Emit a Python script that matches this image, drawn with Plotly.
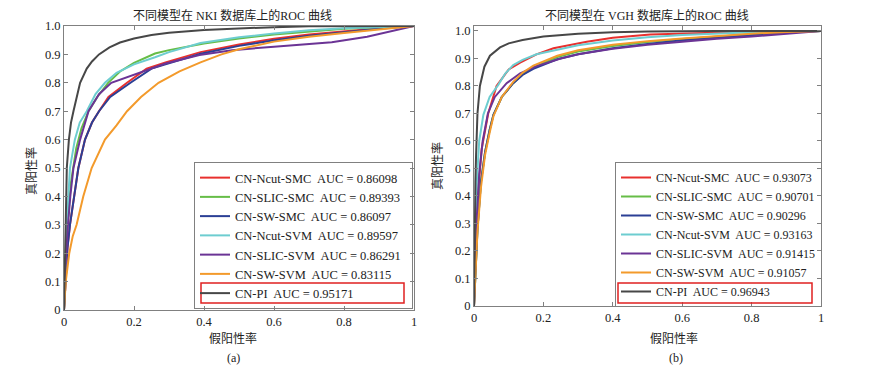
import plotly.graph_objects as go

# ---------------- data ----------------
names = ["CN-Ncut-SMC", "CN-SLIC-SMC", "CN-SW-SMC", "CN-Ncut-SVM", "CN-SLIC-SVM", "CN-SW-SVM", "CN-PI"]
colors = ["#e8302e", "#66bd47", "#2b3f95", "#6dcdd0", "#6b3495", "#f39a2b", "#474747"]

auc_nki = ["0.86098", "0.89393", "0.86097", "0.89597", "0.86291", "0.83115", "0.95171"]
auc_vgh = ["0.93073", "0.90701", "0.90296", "0.93163", "0.91415", "0.91057", "0.96943"]

# NKI ROC points (FPR, TPR)
nki_ncut_smc_fpr = [0, 0.004, 0.01, 0.017, 0.028, 0.041, 0.06, 0.08, 0.1, 0.127, 0.18, 0.236, 0.29, 0.39, 0.5, 0.6, 0.7, 0.8, 0.9, 1.0]
nki_ncut_smc_tpr = [0, 0.1, 0.22, 0.3, 0.4, 0.5, 0.6, 0.66, 0.7, 0.75, 0.8, 0.85, 0.872, 0.908, 0.935, 0.955, 0.97, 0.982, 0.992, 1.0]
nki_slic_smc_fpr = [0, 0.004, 0.01, 0.02, 0.035, 0.05, 0.07, 0.095, 0.126, 0.16, 0.2, 0.26, 0.3, 0.4, 0.5, 0.6, 0.7, 0.8, 0.9, 1.0]
nki_slic_smc_tpr = [0, 0.15, 0.3, 0.45, 0.57, 0.64, 0.7, 0.75, 0.8, 0.84, 0.87, 0.903, 0.915, 0.938, 0.956, 0.97, 0.981, 0.99, 0.996, 1.0]
nki_sw_smc_fpr = [0, 0.004, 0.01, 0.017, 0.028, 0.041, 0.06, 0.08, 0.1, 0.132, 0.19, 0.25, 0.29, 0.39, 0.5, 0.6, 0.7, 0.8, 0.9, 1.0]
nki_sw_smc_tpr = [0, 0.1, 0.22, 0.3, 0.4, 0.5, 0.6, 0.66, 0.7, 0.75, 0.8, 0.85, 0.865, 0.902, 0.93, 0.95, 0.966, 0.979, 0.99, 1.0]
nki_ncut_svm_fpr = [0, 0.003, 0.008, 0.017, 0.031, 0.045, 0.065, 0.09, 0.117, 0.15, 0.2, 0.26, 0.3, 0.39, 0.5, 0.6, 0.7, 0.8, 0.9, 1.0]
nki_ncut_svm_tpr = [0, 0.15, 0.3, 0.5, 0.6, 0.66, 0.7, 0.76, 0.8, 0.835, 0.865, 0.89, 0.908, 0.94, 0.96, 0.974, 0.985, 0.992, 0.997, 1.0]
nki_slic_svm_fpr = [0, 0.003, 0.01, 0.018, 0.027, 0.046, 0.07, 0.1, 0.135, 0.18, 0.225, 0.29, 0.387, 0.48, 0.6, 0.674, 0.765, 0.866, 0.91, 0.955, 1.0]
nki_slic_svm_tpr = [0, 0.12, 0.28, 0.4, 0.5, 0.6, 0.7, 0.76, 0.8, 0.82, 0.838, 0.868, 0.898, 0.915, 0.927, 0.933, 0.943, 0.962, 0.975, 0.986, 1.0]
nki_sw_svm_fpr = [0, 0.005, 0.015, 0.025, 0.036, 0.055, 0.079, 0.117, 0.15, 0.18, 0.22, 0.27, 0.33, 0.39, 0.45, 0.5, 0.6, 0.7, 0.8, 0.9, 1.0]
nki_sw_svm_tpr = [0, 0.1, 0.2, 0.26, 0.3, 0.4, 0.5, 0.6, 0.65, 0.7, 0.75, 0.8, 0.84, 0.872, 0.9, 0.918, 0.945, 0.962, 0.975, 0.988, 1.0]
nki_pi_fpr = [0, 0.003, 0.005, 0.008, 0.014, 0.02, 0.027, 0.046, 0.065, 0.08, 0.1, 0.13, 0.16, 0.2, 0.25, 0.3, 0.4, 0.5, 0.6, 0.7, 0.8, 1.0]
nki_pi_tpr = [0, 0.2, 0.3, 0.5, 0.6, 0.66, 0.7, 0.8, 0.85, 0.875, 0.9, 0.925, 0.942, 0.956, 0.968, 0.976, 0.986, 0.992, 0.996, 0.999, 1.0, 1.0]

# VGH ROC points (FPR, TPR)
vgh_ncut_smc_fpr = [0, 0.003, 0.008, 0.015, 0.022, 0.041, 0.065, 0.1, 0.133, 0.18, 0.229, 0.325, 0.4, 0.508, 0.6, 0.7, 0.8, 0.9, 1.0]
vgh_ncut_smc_tpr = [0, 0.2, 0.35, 0.45, 0.57, 0.7, 0.8, 0.86, 0.885, 0.915, 0.937, 0.961, 0.975, 0.987, 0.991, 0.994, 0.997, 0.999, 1.0]
vgh_slic_smc_fpr = [0, 0.004, 0.01, 0.02, 0.032, 0.045, 0.056, 0.08, 0.113, 0.14, 0.171, 0.24, 0.3, 0.4, 0.5, 0.6, 0.7, 0.8, 0.9, 1.0]
vgh_slic_smc_tpr = [0, 0.12, 0.28, 0.45, 0.56, 0.64, 0.695, 0.76, 0.81, 0.842, 0.868, 0.905, 0.925, 0.945, 0.96, 0.971, 0.98, 0.988, 0.995, 1.0]
vgh_sw_smc_fpr = [0, 0.004, 0.01, 0.02, 0.032, 0.045, 0.056, 0.08, 0.113, 0.14, 0.171, 0.24, 0.3, 0.4, 0.5, 0.6, 0.7, 0.8, 0.9, 1.0]
vgh_sw_smc_tpr = [0, 0.12, 0.28, 0.45, 0.56, 0.64, 0.695, 0.76, 0.81, 0.84, 0.862, 0.897, 0.915, 0.937, 0.953, 0.966, 0.976, 0.986, 0.994, 1.0]
vgh_ncut_svm_fpr = [0, 0.003, 0.008, 0.015, 0.027, 0.045, 0.07, 0.09, 0.113, 0.14, 0.18, 0.25, 0.3, 0.4, 0.5, 0.6, 0.7, 0.8, 0.9, 1.0]
vgh_ncut_svm_tpr = [0, 0.25, 0.45, 0.6, 0.695, 0.76, 0.804, 0.845, 0.876, 0.895, 0.915, 0.935, 0.948, 0.965, 0.977, 0.985, 0.991, 0.995, 0.998, 1.0]
vgh_slic_svm_fpr = [0, 0.003, 0.008, 0.015, 0.025, 0.04, 0.06, 0.094, 0.133, 0.18, 0.25, 0.3, 0.4, 0.5, 0.6, 0.7, 0.8, 0.9, 1.0]
vgh_slic_svm_tpr = [0, 0.15, 0.32, 0.48, 0.6, 0.7, 0.76, 0.81, 0.846, 0.872, 0.9, 0.915, 0.935, 0.95, 0.962, 0.972, 0.98, 0.99, 1.0]
vgh_sw_svm_fpr = [0, 0.004, 0.01, 0.02, 0.032, 0.045, 0.056, 0.08, 0.113, 0.14, 0.171, 0.24, 0.3, 0.4, 0.5, 0.6, 0.7, 0.8, 0.9, 1.0]
vgh_sw_svm_tpr = [0, 0.12, 0.27, 0.43, 0.55, 0.63, 0.69, 0.76, 0.815, 0.848, 0.874, 0.91, 0.93, 0.95, 0.963, 0.973, 0.982, 0.99, 0.996, 1.0]
vgh_pi_fpr = [0, 0.002, 0.004, 0.006, 0.01, 0.017, 0.03, 0.046, 0.075, 0.1, 0.14, 0.2, 0.3, 0.4, 0.5, 0.7, 1.0]
vgh_pi_tpr = [0, 0.3, 0.45, 0.55, 0.7, 0.8, 0.87, 0.91, 0.94, 0.955, 0.967, 0.98, 0.99, 0.995, 0.998, 1.0, 1.0]

nki_curves = [
    (nki_ncut_smc_fpr, nki_ncut_smc_tpr), (nki_slic_smc_fpr, nki_slic_smc_tpr),
    (nki_sw_smc_fpr, nki_sw_smc_tpr), (nki_ncut_svm_fpr, nki_ncut_svm_tpr),
    (nki_slic_svm_fpr, nki_slic_svm_tpr), (nki_sw_svm_fpr, nki_sw_svm_tpr),
    (nki_pi_fpr, nki_pi_tpr),
]
vgh_curves = [
    (vgh_ncut_smc_fpr, vgh_ncut_smc_tpr), (vgh_slic_smc_fpr, vgh_slic_smc_tpr),
    (vgh_sw_smc_fpr, vgh_sw_smc_tpr), (vgh_ncut_svm_fpr, vgh_ncut_svm_tpr),
    (vgh_slic_svm_fpr, vgh_slic_svm_tpr), (vgh_sw_svm_fpr, vgh_sw_svm_tpr),
    (vgh_pi_fpr, vgh_pi_tpr),
]

x_tickvals = [0, 0.2, 0.4, 0.6, 0.8, 1.0]
x_ticktext = ["0", "0.2", "0.4", "0.6", "0.8", "1"]
y_tickvals = [0, 0.1, 0.2, 0.3, 0.4, 0.5, 0.6, 0.7, 0.8, 0.9, 1.0]
y_ticktext = ["0", "0.1", "0.2", "0.3", "0.4", "0.5", "0.6", "0.7", "0.8", "0.9", "1.0"]

title_nki = "不同模型在 NKI 数据库上的ROC 曲线"
title_vgh = "不同模型在 VGH 数据库上的ROC 曲线"
xlabel = "假阳性率"
ylabel = "真阳性率"

# ---------------- figure ----------------
# the page body has an 8px margin, so the figure is drawn 8px smaller and
# every layout position below is given in window pixels minus that offset
OFF = 8
W, H = 869 - OFF, 370 - OFF
FONT = "Liberation Serif, Noto Sans CJK SC, serif"
AX = "#808080"

fig = go.Figure()

for i, (fx, ty) in enumerate(nki_curves):
    fig.add_trace(go.Scatter(
        x=fx, y=ty, mode="lines", line=dict(color=colors[i], width=2),
        name=f"{names[i]}\u00a0 AUC = {auc_nki[i]}\u00a0\u00a0", xaxis="x", yaxis="y", legend="legend"))
for i, (fx, ty) in enumerate(vgh_curves):
    fig.add_trace(go.Scatter(
        x=fx, y=ty, mode="lines", line=dict(color=colors[i], width=2),
        name=f"{names[i]}\u00a0 AUC = {auc_vgh[i]}", xaxis="x2", yaxis="y2", legend="legend2"))

def px_x(p):
    return (p - OFF) / W

def px_y(p):
    return 1 - (p - OFF) / H

axis_common = dict(
    showgrid=False, zeroline=False, showline=True, linecolor=AX, linewidth=1,
    mirror="ticks", ticks="inside", ticklen=4, tickcolor=AX, automargin=False,
    tickfont=dict(family=FONT, size=12.5, color="#222"),
)

legend_common = dict(
    xanchor="left", yanchor="top", bgcolor="rgba(255,255,255,0)", bordercolor=AX,
    borderwidth=1, tracegroupgap=0, itemwidth=30,
)

fig.update_layout(
    width=W, height=H,
    template="none",
    margin=dict(l=0, r=0, t=0, b=0, pad=0, autoexpand=False),
    paper_bgcolor="white", plot_bgcolor="white",
    font=dict(family=FONT, size=12, color="#222"),
    xaxis=dict(domain=[px_x(64), px_x(414)], range=[0, 1], tickvals=x_tickvals,
               ticktext=x_ticktext, anchor="y", **axis_common),
    yaxis=dict(domain=[px_y(310), px_y(26)], range=[0, 1], tickvals=y_tickvals,
               ticktext=y_ticktext, anchor="x", **axis_common),
    xaxis2=dict(domain=[px_x(474), px_x(821)], range=[0, 1], tickvals=x_tickvals,
                ticktext=x_ticktext, anchor="y2", **axis_common),
    yaxis2=dict(domain=[px_y(306), px_y(26)], range=[0, 1.018], tickvals=y_tickvals,
                ticktext=y_ticktext, anchor="x2", **axis_common),
    legend=dict(x=px_x(194), y=px_y(162), font=dict(family=FONT, size=12.5, color="#222"),
                **legend_common),
    legend2=dict(x=px_x(615), y=px_y(162), font=dict(family=FONT, size=12, color="#222"),
                 **legend_common),
    showlegend=True,
)

annotations = [
    dict(text=title_nki, x=px_x(232), y=px_y(15)),
    dict(text=title_vgh, x=px_x(647), y=px_y(15)),
    dict(text=xlabel, x=px_x(233), y=px_y(338)),
    dict(text=xlabel, x=px_x(674), y=px_y(338)),
    dict(text="(a)", x=px_x(233), y=px_y(358)),
    dict(text="(b)", x=px_x(676), y=px_y(358)),
    dict(text=ylabel, x=px_x(31), y=px_y(171), textangle=-90),
    dict(text=ylabel, x=px_x(437), y=px_y(166), textangle=-90),
]
for a in annotations:
    a.update(xref="paper", yref="paper", showarrow=False, xanchor="center", yanchor="middle",
             font=dict(family=FONT, size=12, color="#222"))
fig.update_layout(annotations=annotations)

# red highlight boxes around the CN-PI legend entries
fig.add_shape(type="rect", xref="paper", yref="paper",
              x0=px_x(201), x1=px_x(404), y0=px_y(303), y1=px_y(283),
              line=dict(color="#e02020", width=1.5), layer="above")
fig.add_shape(type="rect", xref="paper", yref="paper",
              x0=px_x(618), x1=px_x(812), y0=px_y(303), y1=px_y(283),
              line=dict(color="#e02020", width=1.5), layer="above")

fig.write_html("out.html")
